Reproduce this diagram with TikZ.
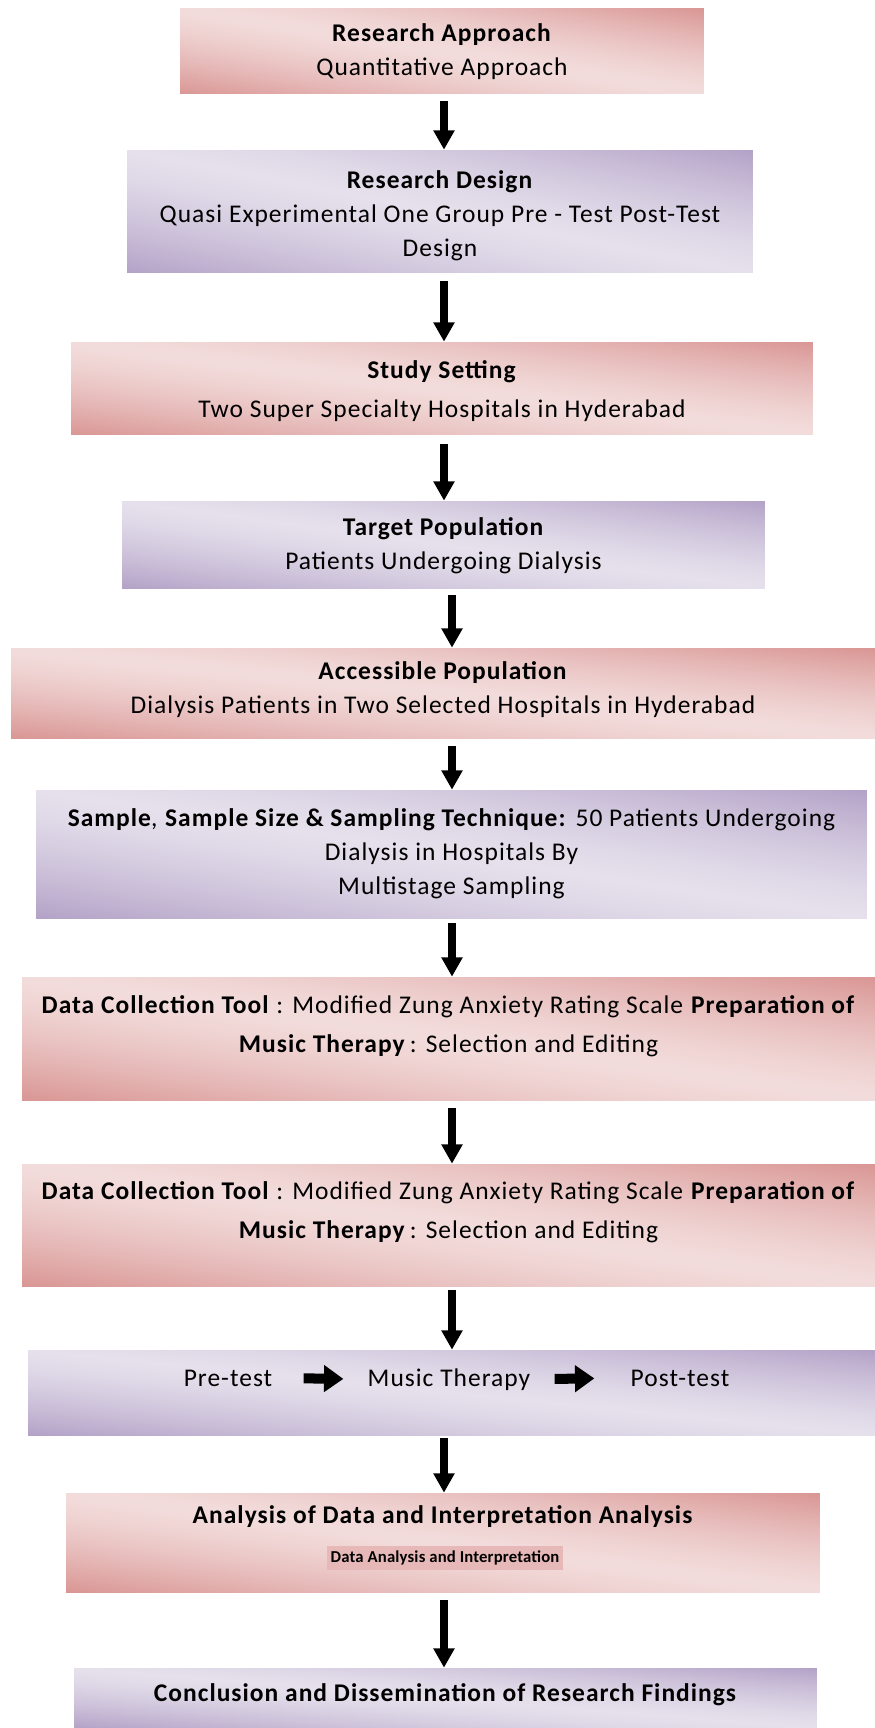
\documentclass[tikz,border=0pt]{standalone}
\usepackage{fontspec}
\setmainfont{Carlito}[LetterSpace=4]
\usetikzlibrary{arrows.meta}
\definecolor{pinkmid}{HTML}{E6B9B8}
\pgfdeclarefunctionalshading{pinkwash}{\pgfpointorigin}{\pgfpoint{100bp}{100bp}}{}{
  add 100 sub 50 div abs dup 1 gt {pop 1} if 1.4 exp
  dup -0.098 mul 0.949 add exch
  dup -0.275 mul 0.863 add exch
  -0.279 mul 0.859 add
}
\pgfdeclarefunctionalshading{lilacwash}{\pgfpointorigin}{\pgfpoint{100bp}{100bp}}{}{
  add 100 sub 50 div abs dup 1 gt {pop 1} if 1.4 exp
  dup -0.196 mul 0.898 add exch
  dup -0.243 mul 0.878 add exch
  -0.145 mul 0.925 add
}
\tikzset{
  pinkbox/.style={rectangle,inner sep=0pt,shading=pinkwash},
  lilacbox/.style={rectangle,inner sep=0pt,shading=lilacwash},
  txt/.style={align=center,inner sep=0pt,font=\fontsize{14.5}{19.3}\selectfont},
  flow/.style={line width=4pt,-{Triangle[width=11.5pt,length=11pt]}},
  fatflow/.style={line width=5.7pt,-{Triangle[width=14.7pt,length=11pt]}}
}
\begin{document}
\begin{tikzpicture}[x=0.02cm,y=-0.02cm]
\useasboundingbox (0,0) rectangle (875,1728);
\coordinate (colA) at (444,0);
\coordinate (colB) at (452,0);
\node[pinkbox,minimum width=10.48cm,minimum height=1.72cm] (ra) at (442,51) {};
\node[txt] (ratxt) at (442,52) {\textbf{Research Approach}\\Quantitative Approach};
\node[lilacbox,minimum width=12.52cm,minimum height=2.46cm] (rd) at (440,211.5) {};
\node[txt] (rdtxt) at (440,215.5) {\textbf{Research Design}\\Quasi Experimental One Group Pre - Test Post-Test\\Design};
\node[pinkbox,minimum width=14.84cm,minimum height=1.86cm] (ss) at (442,388.5) {};
\node[txt] (sstxt) at (442,391) {\textbf{Study Setting}\\[3pt]Two Super Specialty Hospitals in Hyderabad};
\node[lilacbox,minimum width=12.86cm,minimum height=1.74cm] (tp) at (443.5,544.5) {};
\node[txt] (tptxt) at (443.5,546) {\textbf{Target Population}\\Patients Undergoing Dialysis};
\node[pinkbox,minimum width=17.28cm,minimum height=1.8cm] (ap) at (443,693) {};
\node[txt] (aptxt) at (443,690) {\textbf{Accessible Population}\\Dialysis Patients in Two Selected Hospitals in Hyderabad};
\node[lilacbox,minimum width=16.62cm,minimum height=2.56cm] (sm) at (451.5,854) {};
\node[txt] (smtxt) at (451.5,854) {\textbf{Sample}, \textbf{Sample Size \& Sampling Technique:} 50 Patients Undergoing\\Dialysis in Hospitals By\\Multistage Sampling};
\node[pinkbox,minimum width=17.06cm,minimum height=2.46cm] (dc) at (448.5,1038.5) {};
\node[txt] (dctxt) at (448.5,1026.5) {\textbf{Data Collection Tool} : Modified Zung Anxiety Rating Scale \textbf{Preparation of}\\[3pt]\textbf{Music Therapy}\,: Selection and Editing};
\node[pinkbox,minimum width=17.06cm,minimum height=2.44cm] (dcb) at (448.5,1225) {};
\node[txt] (dcbtxt) at (448.5,1212.5) {\textbf{Data Collection Tool} : Modified Zung Anxiety Rating Scale \textbf{Preparation of}\\[3pt]\textbf{Music Therapy}\,: Selection and Editing};
\node[lilacbox,minimum width=16.94cm,minimum height=1.7cm] (pp) at (451.5,1392.5) {};
\node[txt,anchor=base] (pre) at (228,1386) {Pre-test};
\node[txt,anchor=base] (mt) at (449,1386) {Music Therapy};
\node[txt,anchor=base] (post) at (680,1386) {Post-test};
\node[pinkbox,minimum width=15.08cm,minimum height=1.98cm] (ad) at (443,1542.5) {};
\node[txt] (adtxt) at (443,1517) {\textbf{Analysis of Data and Interpretation Analysis}};
\node[fill=pinkmid,minimum width=4.72cm,minimum height=0.48cm,inner sep=0pt,font=\bfseries\fontsize{9.5}{11}\selectfont\addfontfeature{LetterSpace=1}] (adsub) at (445,1558) {Data Analysis and Interpretation};
\node[lilacbox,minimum width=14.86cm,minimum height=1.2cm] (cd) at (445.5,1698) {};
\node[txt] (cdtxt) at (445.5,1695) {\textbf{Conclusion and Dissemination of Research Findings}};
\draw[flow,shorten <=0.14cm] (ra.south -| colA) -- (rd.north -| colA);
\draw[flow,shorten <=0.16cm] (rd.south -| colA) -- (ss.north -| colA);
\draw[flow,shorten <=0.18cm] (ss.south -| colA) -- (tp.north -| colA);
\draw[flow,shorten <=0.14cm] (tp.south -| colB) -- (ap.north -| colB);
\draw[flow,shorten <=0.16cm] (ap.south -| colB) -- (sm.north -| colB);
\draw[flow,shorten <=0.1cm] (sm.south -| colB) -- (dc.north -| colB);
\draw[flow,shorten <=0.16cm] (dc.south -| colB) -- (dcb.north -| colB);
\draw[flow,shorten <=0.08cm] (dcb.south -| colB) -- (pp.north -| colB);
\draw[flow,shorten <=0.06cm] (pp.south -| colA) -- (ad.north -| colA);
\draw[flow,shorten <=0.16cm] (ad.south -| colA) -- (cd.north -| colA);
\draw[fatflow,shorten <=0.62cm,shorten >=0.48cm] (pre.east) -- (mt.west);
\draw[fatflow,shorten <=0.48cm,shorten >=0.72cm] (mt.east) -- (post.west);
\end{tikzpicture}
\end{document}
